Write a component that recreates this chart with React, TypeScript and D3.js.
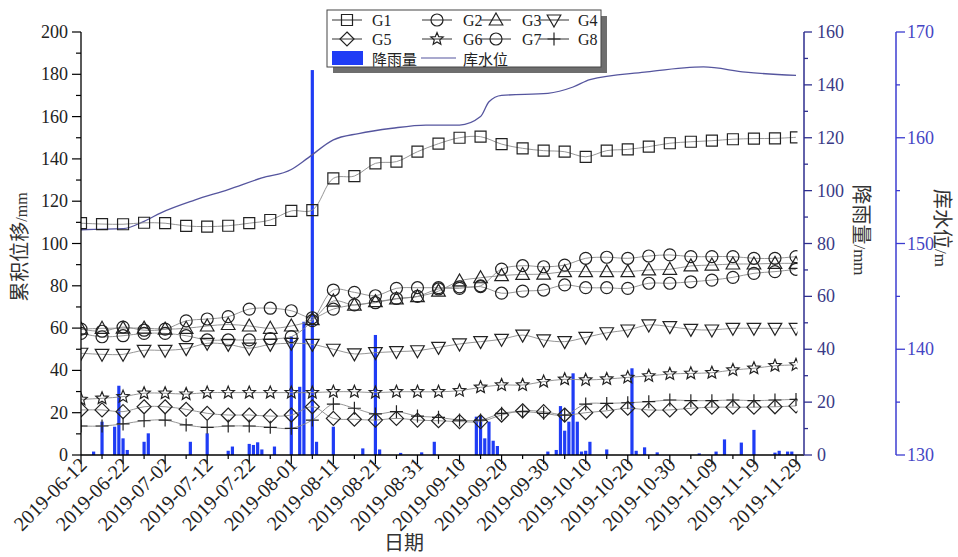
import React from "react";
import * as d3 from "d3";

// ---------- data ----------
const pointDates = [
  "2019-06-12", "2019-06-17", "2019-06-22", "2019-06-27", "2019-07-02", "2019-07-07", "2019-07-12",
  "2019-07-17", "2019-07-22", "2019-07-27", "2019-08-01", "2019-08-06", "2019-08-11", "2019-08-16",
  "2019-08-21", "2019-08-26", "2019-08-31", "2019-09-05", "2019-09-10", "2019-09-15", "2019-09-20",
  "2019-09-25", "2019-09-30", "2019-10-05", "2019-10-10", "2019-10-15", "2019-10-20", "2019-10-25",
  "2019-10-30", "2019-11-04", "2019-11-09", "2019-11-14", "2019-11-19", "2019-11-24", "2019-11-29",
];

const G1 = [109.6, 109.2, 109.1, 109.8, 109.6, 108.3, 108.0, 108.4, 109.6, 111.1, 115.4, 115.8, 130.8, 131.9, 137.9, 138.7, 143.4, 147.2, 150.0, 150.5, 147.0, 145.0, 143.9, 143.4, 141.0, 143.9, 144.5, 145.8, 147.4, 148.1, 148.6, 149.3, 149.6, 149.7, 150.2];
const G2 = [59.5, 58.5, 60.5, 59.0, 59.5, 63.4, 64.3, 65.4, 69.0, 69.4, 68.2, 64.9, 69.0, 71.0, 72.0, 74.0, 75.0, 78.5, 78.8, 79.6, 76.5, 77.5, 78.0, 80.4, 79.1, 79.1, 78.8, 81.2, 81.2, 81.9, 82.7, 84.0, 85.9, 86.7, 87.8];
const G3 = [59.5, 59.9, 60.0, 60.0, 59.5, 59.9, 61.0, 61.7, 61.0, 59.9, 61.0, 64.0, 72.8, 70.9, 72.5, 73.8, 74.9, 77.5, 82.3, 83.8, 84.8, 85.4, 85.5, 86.7, 86.7, 86.7, 86.7, 87.5, 87.8, 89.4, 89.8, 90.3, 90.3, 90.6, 90.6];
const G4 = [48.1, 47.6, 47.6, 49.5, 49.5, 50.3, 52.8, 52.3, 50.5, 52.3, 52.8, 52.3, 50.0, 47.8, 48.4, 48.9, 49.3, 50.9, 52.5, 53.6, 54.7, 56.7, 54.4, 53.6, 55.6, 57.8, 59.1, 61.5, 60.7, 59.4, 59.1, 59.9, 59.9, 59.9, 59.9];
const G5 = [21.3, 21.3, 20.5, 22.8, 22.8, 21.6, 19.7, 18.9, 18.9, 18.4, 18.9, 22.8, 17.3, 16.9, 16.5, 17.3, 16.5, 16.2, 15.8, 15.8, 18.9, 20.9, 20.5, 18.9, 20.0, 20.9, 22.1, 21.3, 21.3, 22.1, 22.6, 22.6, 22.6, 22.8, 23.2];
const G6 = [26.3, 26.8, 27.6, 29.2, 29.2, 28.8, 29.5, 29.5, 29.5, 29.5, 29.5, 29.5, 29.9, 29.9, 29.5, 29.9, 29.9, 29.9, 30.4, 32.0, 33.1, 33.1, 34.7, 35.8, 35.5, 35.9, 36.7, 37.4, 38.3, 38.6, 38.9, 40.2, 41.0, 42.2, 42.6];
const G7 = [57.5, 55.9, 56.4, 57.5, 57.5, 56.4, 54.4, 54.4, 54.4, 55.0, 56.0, 63.5, 78.0, 76.9, 75.3, 78.8, 79.1, 79.1, 79.5, 80.0, 87.9, 89.5, 89.0, 89.8, 93.0, 93.5, 93.0, 94.1, 94.6, 93.8, 93.8, 93.8, 93.0, 93.0, 93.8];
const G8 = [13.7, 13.7, 14.7, 16.2, 16.5, 14.2, 13.1, 13.7, 13.7, 13.1, 12.6, 16.5, 24.1, 22.1, 19.4, 20.5, 18.4, 17.8, 16.5, 16.5, 19.7, 20.5, 19.7, 18.9, 24.1, 24.4, 24.7, 25.2, 26.0, 25.7, 25.7, 26.0, 25.7, 26.0, 26.3];

const rainDates = [
  "2019-06-15", "2019-06-17", "2019-06-20", "2019-06-21", "2019-06-22", "2019-06-23", "2019-06-27", "2019-06-28",
  "2019-07-08", "2019-07-12", "2019-07-17", "2019-07-18", "2019-07-22", "2019-07-23", "2019-07-24", "2019-07-25",
  "2019-07-28", "2019-08-01", "2019-08-03", "2019-08-04", "2019-08-06", "2019-08-07", "2019-08-11", "2019-08-18",
  "2019-08-21", "2019-08-22", "2019-08-27", "2019-09-01", "2019-09-04", "2019-09-14", "2019-09-15", "2019-09-16",
  "2019-09-17", "2019-09-18", "2019-09-19", "2019-10-01", "2019-10-03", "2019-10-04", "2019-10-05", "2019-10-06",
  "2019-10-07", "2019-10-08", "2019-10-09", "2019-10-10", "2019-10-11", "2019-10-15", "2019-10-21", "2019-10-22",
  "2019-10-24", "2019-10-27", "2019-11-06", "2019-11-10", "2019-11-12", "2019-11-16", "2019-11-19", "2019-11-24",
  "2019-11-25", "2019-11-27", "2019-11-28",
];
const rainValues = [
  1.3, 12.6, 10.7, 26.2, 6.3, 1.9, 5.0, 8.2,
  5.0, 8.2, 1.6, 3.2, 4.2, 3.8, 4.8, 2.1,
  3.2, 44.8, 25.8, 50.4, 145.6, 5.0, 10.7, 2.5,
  45.4, 2.1, 0.8, 1.0, 5.0, 14.5, 14.8, 6.3,
  12.6, 5.4, 3.4, 1.3, 1.9, 18.5, 9.2, 12.6,
  30.9, 12.6, 1.3, 1.6, 5.0, 2.1, 32.8, 1.6,
  2.9, 1.0, 0.6, 1.3, 5.9, 4.7, 9.5, 0.9,
  1.6, 1.3, 1.3,
];

const levelDates = [
  "2019-06-12", "2019-06-22", "2019-06-27", "2019-07-01", "2019-07-09", "2019-07-17", "2019-07-25", "2019-08-01",
  "2019-08-05", "2019-08-11", "2019-08-17", "2019-08-25", "2019-09-02", "2019-09-10", "2019-09-15", "2019-09-17",
  "2019-09-20", "2019-10-01", "2019-10-07", "2019-10-11", "2019-10-24", "2019-11-07", "2019-11-17", "2019-11-29",
];
const levelValues = [
  151.3, 151.4, 152.1, 152.9, 154.1, 155.1, 156.2, 157.0,
  158.1, 159.8, 160.4, 160.9, 161.2, 161.2, 162.0, 163.4,
  164.0, 164.2, 164.8, 165.5, 166.2, 166.7, 166.2, 165.9,
];

const xTickLabels = [
  "2019-06-12", "2019-06-22", "2019-07-02", "2019-07-12", "2019-07-22", "2019-08-01", "2019-08-11", "2019-08-21",
  "2019-08-31", "2019-09-10", "2019-09-20", "2019-09-30", "2019-10-10", "2019-10-20", "2019-10-30", "2019-11-09",
  "2019-11-19", "2019-11-29",
];
const leftTicks = [0, 20, 40, 60, 80, 100, 120, 140, 160, 180, 200];
const rainTicks = [0, 20, 40, 60, 80, 100, 120, 140, 160];
const levelTicks = [130, 140, 150, 160, 170];

const seriesNames = ["G1", "G2", "G3", "G4", "G5", "G6", "G7", "G8"];
const seriesShapes = ["square", "circle", "triUp", "triDown", "diamond", "star", "circle", "plus"];
const seriesValues = [G1, G2, G3, G4, G5, G6, G7, G8];

// ---------- styling ----------
const SERIF = "'Liberation Serif', 'DejaVu Serif', serif";
const CJK = "'Noto Sans CJK SC', 'Noto Sans CJK JP', sans-serif";
const BAR_COLOR = "#1f3cf5";
const LEVEL_COLOR = "#55559e";
const RAIN_AXIS = "#2e2e8e";
const LEVEL_AXIS = "#3c3cd0";
const MARK = "#222";

const starPath = (() => {
  const pts: string[] = [];
  for (let k = 0; k < 10; k++) {
    const r = k % 2 === 0 ? 6.5 : 2.9;
    const a = -Math.PI / 2 + (k * Math.PI) / 5;
    pts.push(`${(r * Math.cos(a)).toFixed(2)},${(r * Math.sin(a)).toFixed(2)}`);
  }
  return "M" + pts.join("L") + "Z";
})();

function Marker({ shape, cx, cy }: { shape: string; cx: number; cy: number }) {
  const common = { fill: "none", stroke: MARK, strokeWidth: 1.2 };
  const t = `translate(${cx},${cy})`;
  switch (shape) {
    case "square":
      return <path transform={t} d="M-5.5,-5.5h11v11h-11z" {...common} />;
    case "circle":
      return <circle cx={cx} cy={cy} r={6} {...common} />;
    case "triUp":
      return <path transform={t} d="M0,-7L6.8,5L-6.8,5Z" {...common} />;
    case "triDown":
      return <path transform={t} d="M0,7L6.8,-5L-6.8,-5Z" {...common} />;
    case "diamond":
      return <path transform={t} d="M0,-7L7,0L0,7L-7,0Z" {...common} />;
    case "star":
      return <path transform={t} d={starPath} {...common} />;
    case "plus":
      return <path transform={t} d="M-6.5,0H6.5M0,-6.5V6.5" {...common} />;
    default:
      return null;
  }
}

export default function App() {
  const parse = d3.timeParse("%Y-%m-%d");
  const pd = (s: string) => parse(s) as Date;

  const x = d3
    .scaleTime()
    .domain([pd(xTickLabels[0]), pd(xTickLabels[xTickLabels.length - 1])])
    .range([81, 796]);
  const yL = d3.scaleLinear().domain([0, 200]).range([455, 32]);
  const yR = d3.scaleLinear().domain([0, 160]).range([455, 32]);
  const yW = d3.scaleLinear().domain([130, 170]).range([455, 32]);

  const xMinor = xTickLabels.slice(0, -1).map((s) => d3.timeDay.offset(pd(s), 5));
  const leftMinor = leftTicks.slice(0, -1).map((v) => v + 10);
  const rainMinor = rainTicks.slice(0, -1).map((v) => v + 10);
  const levelMinor = levelTicks.slice(0, -1).map((v) => v + 5);

  const seriesLine = d3
    .line<number>()
    .x((_, i) => x(pd(pointDates[i])))
    .y((v) => yL(v))
    .curve(d3.curveCatmullRom.alpha(0.5));

  const levelLine = d3
    .line<number>()
    .x((_, i) => x(pd(levelDates[i])))
    .y((v) => yW(v))
    .curve(d3.curveMonotoneX);

  const barW = 3.2;
  const axisX0 = 81;
  const axisRain = 804;
  const axisLevel = 896;
  const yBottom = 455;
  const yTop = 32;

  // legend layout
  const legendItems = [
    { i: 0, row: 0, lx: 332, tx: 372 },
    { i: 1, row: 0, lx: 422, tx: 463 },
    { i: 2, row: 0, lx: 481, tx: 522 },
    { i: 3, row: 0, lx: 539, tx: 578 },
    { i: 4, row: 1, lx: 332, tx: 372 },
    { i: 5, row: 1, lx: 422, tx: 463 },
    { i: 6, row: 1, lx: 481, tx: 522 },
    { i: 7, row: 1, lx: 539, tx: 578 },
  ];
  const rowY = [20, 39, 58];

  return (
    <svg
      width={958}
      height={557}
      style={{ position: "absolute", left: 0, top: 0, background: "#fff" }}
    >
      <defs>
        <clipPath id="plotClip">
          <rect x={81} y={20} width={716.5} height={445} />
        </clipPath>
      </defs>
      <rect x={0} y={0} width={958} height={557} fill="#fff" />

      {/* rainfall bars */}
      <g>
        {rainDates.map((d, i) => (
          <rect
            key={d}
            x={x(pd(d)) - barW / 2}
            y={yR(rainValues[i])}
            width={barW}
            height={yBottom - yR(rainValues[i])}
            fill={BAR_COLOR}
          />
        ))}
      </g>

      {/* reservoir level */}
      <path d={levelLine(levelValues) || ""} fill="none" stroke={LEVEL_COLOR} strokeWidth={1.3} />

      {/* displacement series */}
      <g clipPath="url(#plotClip)">
        {seriesValues.map((vals, si) => (
          <path
            key={"l" + si}
            d={seriesLine(vals) || ""}
            fill="none"
            stroke="#8a8a8a"
            strokeWidth={0.9}
          />
        ))}
        {seriesValues.map((vals, si) =>
          vals.map((v, i) => (
            <Marker
              key={`m${si}-${i}`}
              shape={seriesShapes[si]}
              cx={x(pd(pointDates[i]))}
              cy={yL(v)}
            />
          ))
        )}
      </g>

      {/* left axis */}
      <g fontFamily={SERIF} fontSize={18} fill="#222">
        <line x1={axisX0} x2={axisX0} y1={yTop} y2={yBottom} stroke="#000" strokeWidth={1.3} />
        {leftTicks.map((v) => (
          <g key={"lt" + v}>
            <line x1={axisX0 - 9} x2={axisX0} y1={yL(v)} y2={yL(v)} stroke="#000" strokeWidth={1.2} />
            <text x={axisX0 - 13} y={yL(v)} textAnchor="end" dominantBaseline="central">
              {v}
            </text>
          </g>
        ))}
        {leftMinor.map((v) => (
          <line key={"lm" + v} x1={axisX0 - 5} x2={axisX0} y1={yL(v)} y2={yL(v)} stroke="#000" strokeWidth={1.2} />
        ))}
      </g>
      <text
        transform={`translate(27,247) rotate(-90)`}
        textAnchor="middle"
        fontFamily={CJK}
        fontSize={20}
        fill="#333"
      >
        累积位移<tspan fontFamily={SERIF} fontSize={16}>/mm</tspan>
      </text>

      {/* bottom axis */}
      <g fontFamily={SERIF} fontSize={20} fill="#222">
        <line x1={axisX0} x2={axisRain} y1={yBottom} y2={yBottom} stroke="#000" strokeWidth={1.3} />
        {xTickLabels.map((s) => {
          const px = x(pd(s));
          return (
            <g key={s}>
              <line x1={px} x2={px} y1={yBottom} y2={yBottom + 9} stroke="#000" strokeWidth={1.2} />
              <text transform={`translate(${px + 7},${yBottom + 11}) rotate(-45)`} textAnchor="end">
                {s}
              </text>
            </g>
          );
        })}
        {xMinor.map((d, i) => (
          <line key={"xm" + i} x1={x(d)} x2={x(d)} y1={yBottom} y2={yBottom + 4} stroke="#000" strokeWidth={1.2} />
        ))}
      </g>
      <text x={404} y={550} textAnchor="middle" fontFamily={CJK} fontSize={20} fill="#333">
        日期
      </text>

      {/* rainfall axis */}
      <g fontFamily={SERIF} fontSize={18} fill="#3a3a86">
        <line x1={axisRain} x2={axisRain} y1={yTop} y2={yBottom} stroke={RAIN_AXIS} strokeWidth={1.5} />
        {rainTicks.map((v) => (
          <g key={"rt" + v}>
            <line x1={axisRain} x2={axisRain + 8} y1={yR(v)} y2={yR(v)} stroke={RAIN_AXIS} strokeWidth={1.3} />
            <text x={axisRain + 13} y={yR(v)} dominantBaseline="central">
              {v}
            </text>
          </g>
        ))}
        {rainMinor.map((v) => (
          <line key={"rm" + v} x1={axisRain} x2={axisRain + 4} y1={yR(v)} y2={yR(v)} stroke={RAIN_AXIS} strokeWidth={1.3} />
        ))}
      </g>
      <text
        transform={`translate(854,230) rotate(90)`}
        textAnchor="middle"
        fontFamily={CJK}
        fontSize={20}
        fill="#333"
      >
        降雨量<tspan fontFamily={SERIF} fontSize={17}>/mm</tspan>
      </text>

      {/* water level axis */}
      <g fontFamily={SERIF} fontSize={18} fill="#4545c4">
        <line x1={axisLevel} x2={axisLevel} y1={yTop} y2={yBottom} stroke={LEVEL_AXIS} strokeWidth={1.5} />
        {levelTicks.map((v) => (
          <g key={"wt" + v}>
            <line x1={axisLevel} x2={axisLevel + 9} y1={yW(v)} y2={yW(v)} stroke={LEVEL_AXIS} strokeWidth={1.3} />
            <text x={axisLevel + 11} y={yW(v)} dominantBaseline="central">
              {v}
            </text>
          </g>
        ))}
        {levelMinor.map((v) => (
          <line key={"wm" + v} x1={axisLevel} x2={axisLevel + 4} y1={yW(v)} y2={yW(v)} stroke={LEVEL_AXIS} strokeWidth={1.3} />
        ))}
      </g>
      <text
        transform={`translate(935,228) rotate(90)`}
        textAnchor="middle"
        fontFamily={CJK}
        fontSize={20}
        fill="#333"
      >
        库水位<tspan fontFamily={SERIF} fontSize={17}>/m</tspan>
      </text>

      {/* legend */}
      <g>
        <rect x={333} y={16} width={274} height={57} fill="#6e6e6e" />
        <rect x={327} y={10} width={274} height={57} fill="#fff" stroke="#444" strokeWidth={1} />
        {legendItems.map((it) => {
          const y = rowY[it.row];
          return (
            <g key={"lg" + it.i}>
              <line x1={it.lx} x2={it.lx + 30} y1={y} y2={y} stroke="#333" strokeWidth={1} />
              <Marker shape={seriesShapes[it.i]} cx={it.lx + 15} cy={y} />
              <text x={it.tx} y={y} dominantBaseline="central" fontFamily={SERIF} fontSize={16} fill="#222">
                {seriesNames[it.i]}
              </text>
            </g>
          );
        })}
        <rect x={332} y={51} width={31} height={14} fill={BAR_COLOR} />
        <text x={372} y={rowY[2]} dominantBaseline="central" fontFamily={CJK} fontSize={15} fill="#222">
          降雨量
        </text>
        <line x1={421} x2={456} y1={rowY[2]} y2={rowY[2]} stroke={LEVEL_COLOR} strokeWidth={1.2} />
        <text x={463} y={rowY[2]} dominantBaseline="central" fontFamily={CJK} fontSize={15} fill="#222">
          库水位
        </text>
      </g>
    </svg>
  );
}
